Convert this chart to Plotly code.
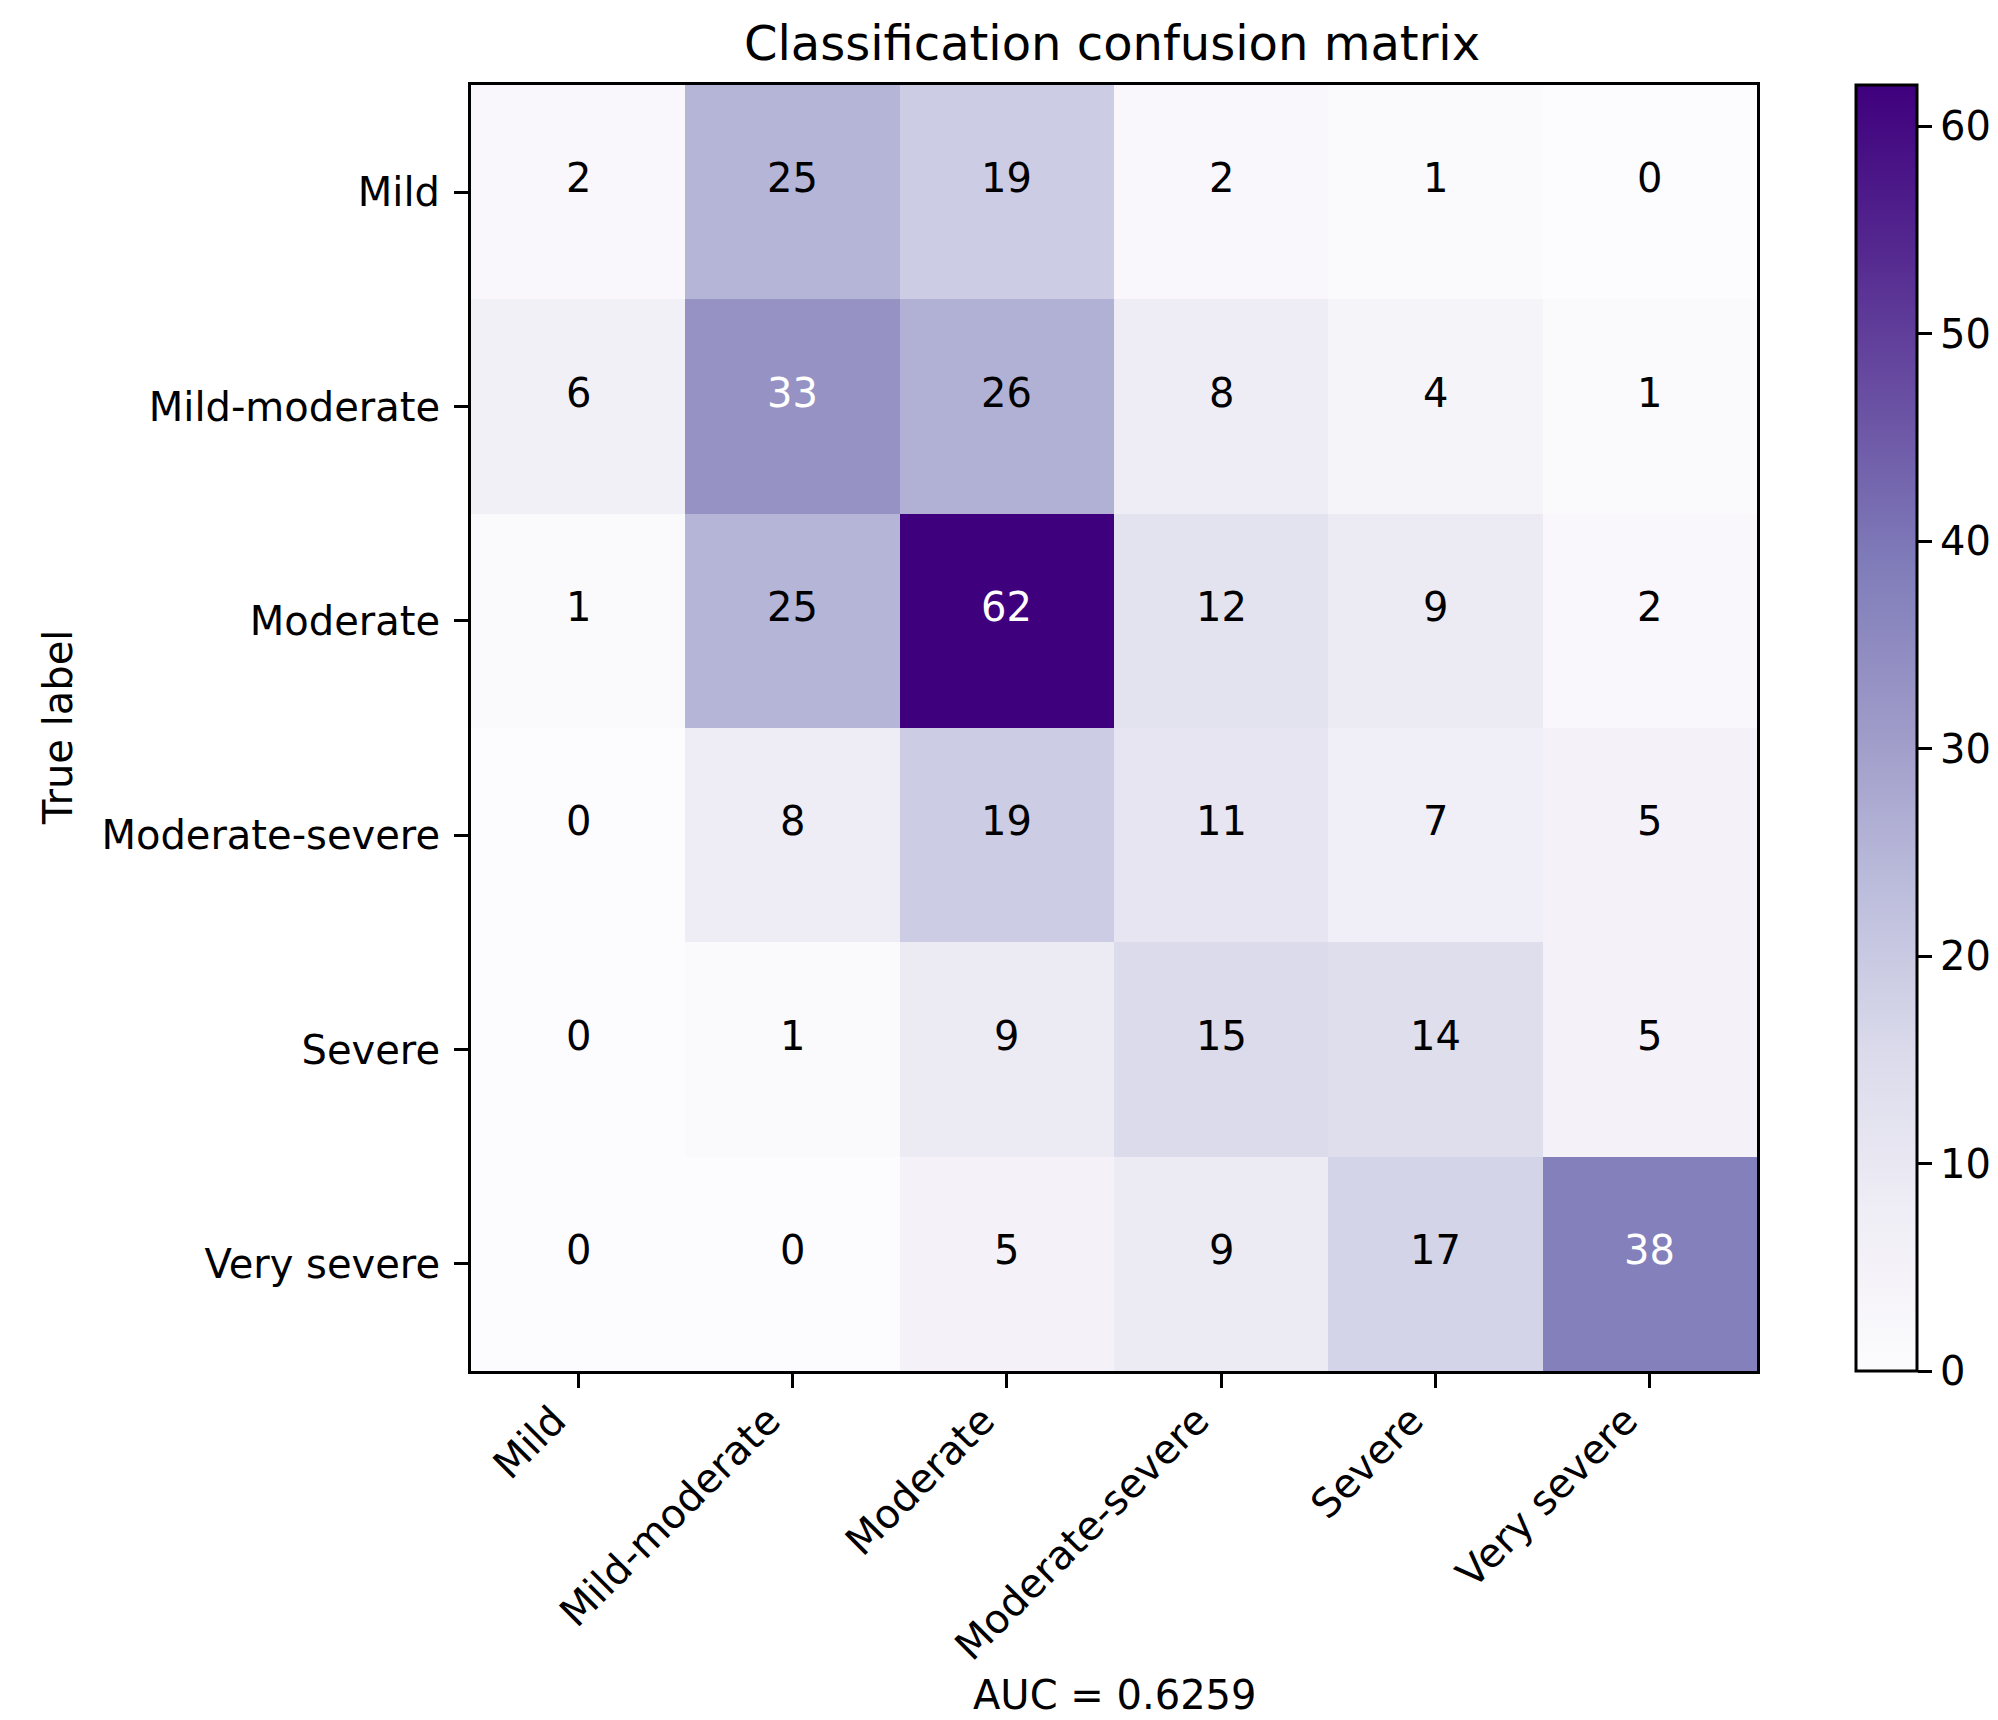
import plotly.graph_objects as go

# ---- data ----
labels = ["Mild", "Mild-moderate", "Moderate", "Moderate-severe", "Severe", "Very severe"]
row_mild = [2, 25, 19, 2, 1, 0]
row_mild_moderate = [6, 33, 26, 8, 4, 1]
row_moderate = [1, 25, 62, 12, 9, 2]
row_moderate_severe = [0, 8, 19, 11, 7, 5]
row_severe = [0, 1, 9, 15, 14, 5]
row_very_severe = [0, 0, 5, 9, 17, 38]
matrix = [row_mild, row_mild_moderate, row_moderate, row_moderate_severe, row_severe, row_very_severe]
cbar_ticks = [0, 10, 20, 30, 40, 50, 60]
title_text = "Classification confusion matrix"
ylabel_text = "True label"
xlabel_text = "AUC = 0.6259"

# ---- style ----
FONT = "DejaVu Sans"
purples = ["#fcfbfd", "#efedf5", "#dadaeb", "#bcbddc", "#9e9ac8",
           "#807dba", "#6a51a3", "#54278f", "#3f007d"]
colorscale = [[i / (len(purples) - 1), c] for i, c in enumerate(purples)]

W, H = 1998, 1720
L, R_EDGE, T, B_EDGE = 471, 1757, 85, 1371
pw, ph = R_EDGE - L, B_EDGE - T

n = len(labels)
idx = list(range(n))
zmax = max(max(r) for r in matrix)
thresh = zmax / 2.0

fig = go.Figure()
fig.add_trace(go.Heatmap(
    z=matrix, x=idx, y=idx,
    colorscale=colorscale, zmin=0, zmax=zmax,
    showscale=True,
    hoverinfo="skip",
    colorbar=dict(
        x=(1856 - L) / pw, xanchor="left", xpad=0,
        y=0.5, yanchor="middle", len=1.0, lenmode="fraction", ypad=0,
        thickness=61, thicknessmode="pixels",
        outlinewidth=3, outlinecolor="black",
        tickmode="array", tickvals=cbar_ticks,
        ticks="outside", ticklen=14, tickwidth=3, tickcolor="black",
        tickfont=dict(family=FONT, size=40, color="black"),
    ),
))

annotations = []
for i, row in enumerate(matrix):
    for j, v in enumerate(row):
        annotations.append(dict(
            x=j, y=i, xref="x", yref="y", text=str(v), showarrow=False,
            font=dict(family=FONT, size=40, color="white" if v > thresh else "black"),
            yshift=14,
        ))

annotations.append(dict(
    x=(58 - L) / pw, y=0.5, xref="paper", yref="paper", text=ylabel_text,
    textangle=-90, showarrow=False, xanchor="center", yanchor="middle",
    font=dict(family=FONT, size=40, color="black"),
))
annotations.append(dict(
    x=0.5, y=(B_EDGE - 1719) / ph, xref="paper", yref="paper", text=xlabel_text,
    showarrow=False, xanchor="center", yanchor="bottom", borderpad=0,
    font=dict(family=FONT, size=40, color="black"),
))

axis_common = dict(
    showline=True, linewidth=3, linecolor="black", mirror=True,
    ticks="outside", ticklen=14, tickwidth=3, tickcolor="black",
    showgrid=False, zeroline=False,
    tickfont=dict(family=FONT, size=40, color="black"),
    tickmode="array", tickvals=idx, ticktext=labels,
)

fig.update_layout(
    width=W, height=H,
    margin=dict(l=L, r=W - R_EDGE, t=T, b=H - B_EDGE, autoexpand=False),
    paper_bgcolor="white", plot_bgcolor="white",
    title=dict(text=title_text, x=(1112) / W, xanchor="center",
               y=1 - 43 / H, yanchor="middle",
               font=dict(family=FONT, size=48, color="black")),
    xaxis=dict(range=[-0.5, n - 0.5], tickangle=-45, ticklabelstandoff=-7,
               ticklabelshift=-24, **axis_common),
    yaxis=dict(range=[n - 0.5, -0.5], ticklabelstandoff=6, **axis_common),
    annotations=annotations,
    font=dict(family=FONT),
)

fig.write_html("out.html", config={"displayModeBar": False},
               post_script="document.body.style.margin='0px';")
